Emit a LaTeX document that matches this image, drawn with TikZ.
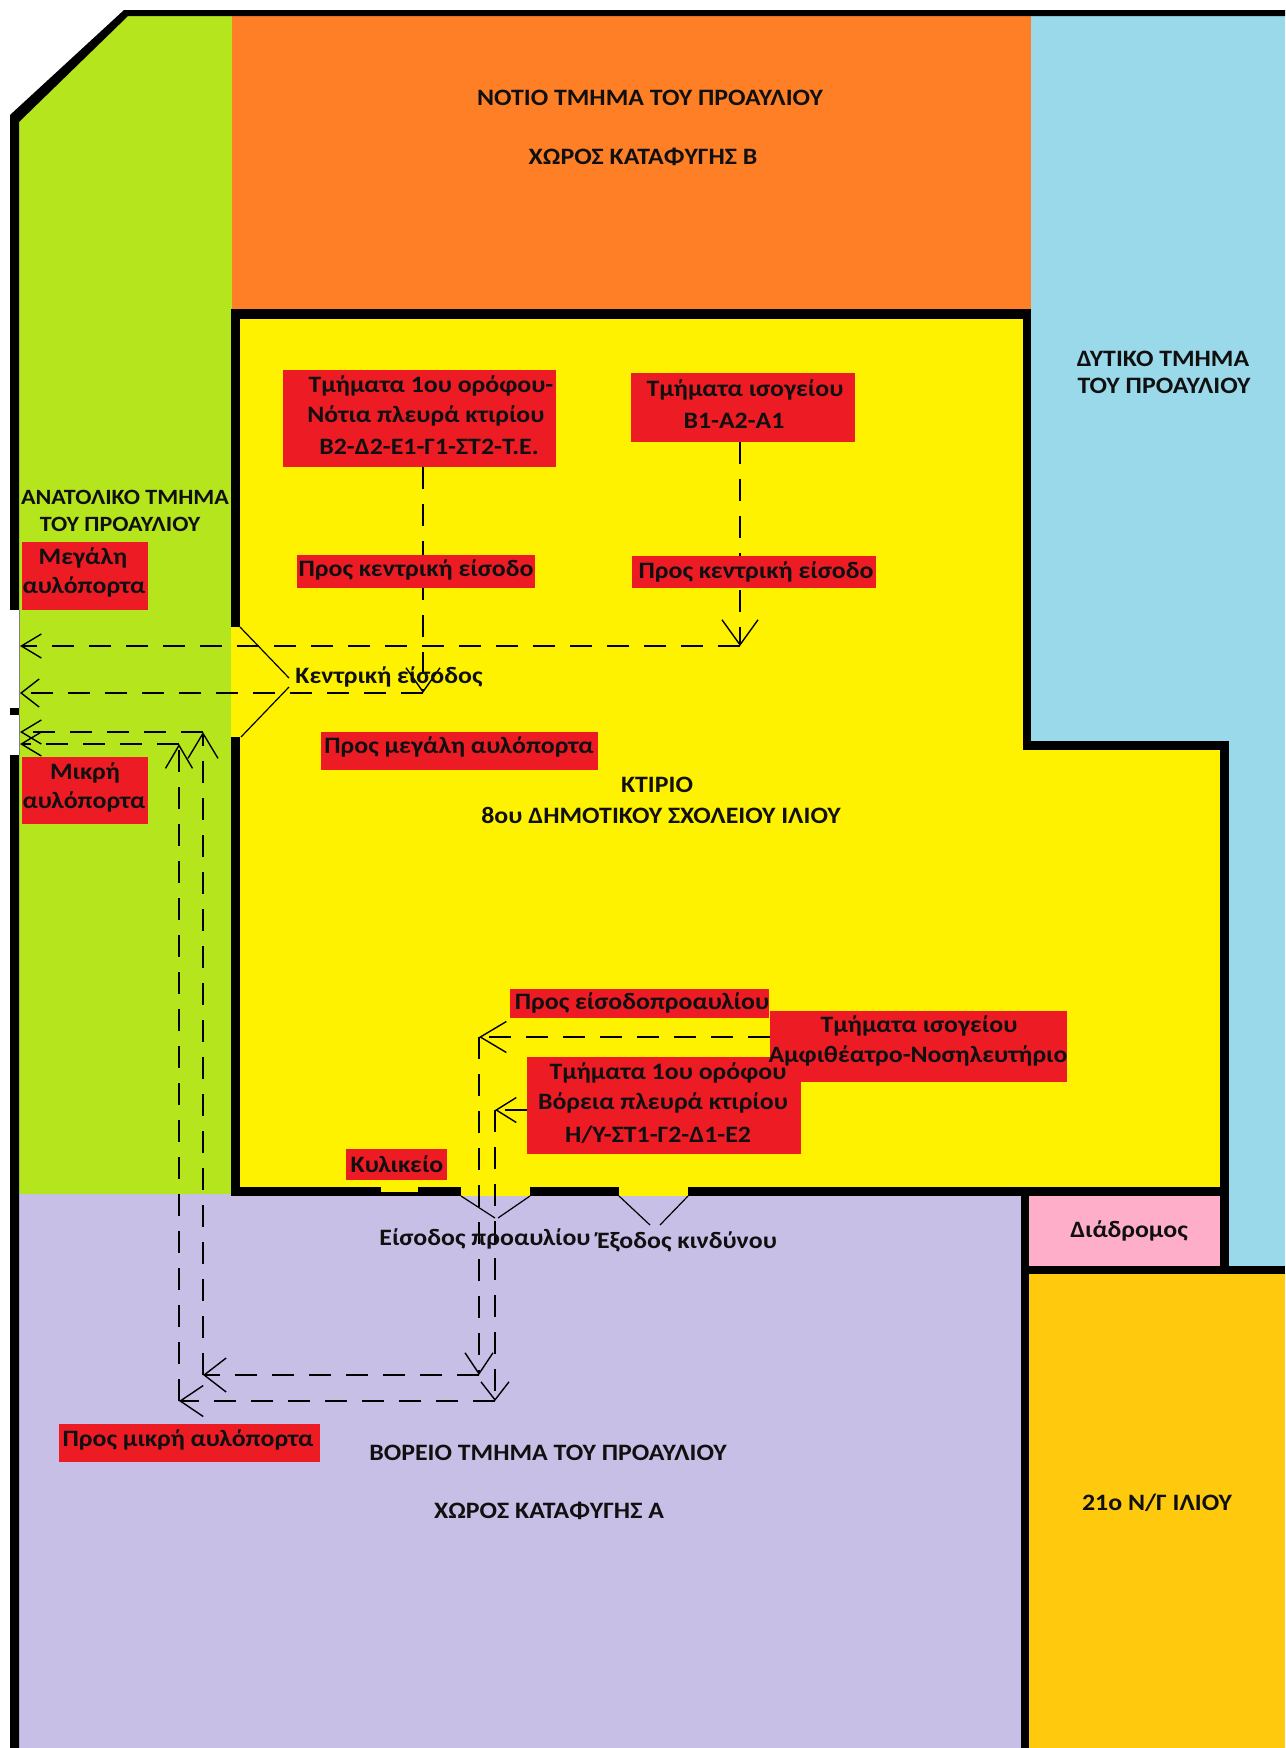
\documentclass[tikz,border=0pt]{standalone}
\usepackage{fontspec}
\setmainfont{Carlito}[FakeStretch=1.1]
\usetikzlibrary{arrows.meta,calc}
\pgfdeclarelayer{plan}
\pgfdeclarelayer{routes}
\pgfsetlayers{plan,routes,main}
\definecolor{cOrange}{HTML}{FF7F27}
\definecolor{cGreen}{HTML}{B5E61D}
\definecolor{cYellow}{HTML}{FFF200}
\definecolor{cRed}{HTML}{ED1C24}
\definecolor{cBlue}{HTML}{99D9EA}
\definecolor{cLav}{HTML}{C8BFE7}
\definecolor{cPink}{HTML}{FFAEC9}
\definecolor{cGold}{HTML}{FFC90E}
\definecolor{cText}{HTML}{101010}
\tikzset{
  lbl/.style={inner sep=0pt,text=cText,font=\fontsize{23.5}{26}\selectfont\bfseries},
  lblsmall/.style={lbl,font=\fontsize{21.8}{26}\selectfont\bfseries},
  redbox/.style={fill=cRed,draw=none,inner sep=0pt,outer sep=0pt},
  route/.style={draw=black,line width=1.4pt,dash pattern=on 22pt off 15pt},
  doorline/.style={draw=black,line width=1.2pt},
  ah/.style 2 args={-{Straight Barb[length=#1pt,width=#2pt,line width=1.4pt]}},
}
\newcommand{\rbox}[5]{%
  \pgfmathsetmacro{\rbw}{#4-#2}\pgfmathsetmacro{\rbh}{#5-#3}%
  \pgfmathsetmacro{\rbx}{(#4+#2)/2}\pgfmathsetmacro{\rby}{(#5+#3)/2}%
  \node[redbox,minimum width=\rbw pt,minimum height=\rbh pt] (#1) at (\rbx,\rby) {};}
\begin{document}
\begin{tikzpicture}[x=1pt,y=-1pt]
\useasboundingbox (0,0) rectangle (1285,1748);
\begin{pgfonlayer}{plan}
\fill[white] (0,0) rectangle (1285,1748);
% areas
\fill[cGreen] (15,118) -- (125,12) -- (235,12) -- (235,1200) -- (15,1200) -- cycle;
\fill[cOrange] (232,12) rectangle (1032,312);
\fill[cBlue] (1031,12) rectangle (1285,1270);
\fill[cYellow] (236,314) -- (1027,314) -- (1027,745) -- (1224,745) -- (1224,1190) -- (236,1190) -- cycle;
\fill[cLav] (15,1194) rectangle (1025,1748);
\fill[cPink] (1025,1194) rectangle (1224,1270);
\fill[cGold] (1025,1270) rectangle (1285,1748);
% walls
\fill[black] (10,1748) -- (10,115) -- (124,10) -- (1285,10) -- (1285,16) -- (128,16) -- (19,122) -- (19,1748) -- cycle;
\fill[white] (0,610) rectangle (19,708);
\fill[white] (0,715) rectangle (19,755);
\draw[gray,line width=0.6pt] (19,610) -- (19,708) (19,715) -- (19,755);
\fill[black] (10,708) rectangle (18,715);
\fill[black] (231,309) rectangle (1031,319);
\fill[black] (231,309) rectangle (240,1196);
\fill[black] (1023,309) rectangle (1031,750);
\fill[black] (1023,741) rectangle (1229,750);
\fill[black] (1220,741) rectangle (1229,1274);
\fill[black] (231,1187) rectangle (1229,1196);
\fill[black] (1021,1187) rectangle (1029,1748);
\fill[black] (1021,1266) rectangle (1285,1274);
% openings
\fill[cYellow] (231,627) rectangle (240,737);
\fill[cYellow] (461,1187) rectangle (530,1196);
\fill[cYellow] (619,1187) rectangle (688,1196);
\fill[cYellow] (381,1187) rectangle (418,1192);
\draw[doorline] (240,627) -- (289,678);
\draw[doorline] (289,687) -- (241,737);
\draw[doorline] (461,1196) -- (495,1218);
\draw[doorline] (498,1218) -- (530,1196);
\draw[doorline] (619,1196) -- (650,1225);
\draw[doorline] (660,1225) -- (688,1196);
\end{pgfonlayer}
% red boxes
\rbox{b1}{283}{370}{556}{467}
\rbox{b2}{631}{373}{855}{442}
\rbox{b3}{297}{555}{535}{588}
\rbox{b4}{632}{556}{876}{588}
\rbox{b5}{22}{542}{148}{610}
\rbox{b6}{22}{757}{148}{824}
\rbox{b7}{321}{732}{598}{770}
\rbox{b8}{510}{989}{769}{1018}
\rbox{b9}{770}{1011}{1067}{1082}
\rbox{b10}{527}{1057}{801}{1154}
\rbox{b11}{346}{1149}{447}{1180}
\rbox{b12}{59}{1424}{320}{1462}
% route points
\coordinate (gB) at (20,646);
\coordinate (gA) at (20,693);
\coordinate (gC) at (20,732);
\coordinate (gD) at (20,744);
\coordinate (pA) at (423,693);
\coordinate (pB) at (740,646);
\coordinate (pC) at (203,732);
\coordinate (pD) at (179,744);
\coordinate (pE) at (203,1375);
\coordinate (pF) at (179,1401);
\coordinate (pG) at (479,1375);
\coordinate (pH) at (495,1401);
\coordinate (pI) at (479,1037);
\coordinate (pJ) at (495,1110);
\begin{pgfonlayer}{routes}
\draw[route,ah={24}{34}] (b1.south -| pA) -- (pA);
\draw[route,ah={18}{28}] (pA) -- (gA);
\draw[route,ah={25}{36}] (b2.south -| pB) -- (pB);
\draw[route,ah={20}{24}] (pB) -- (gB);
\draw[route,ah={26}{31}] (b9.west |- pI) -- (pI);
\draw[route,ah={21}{28}] (pI) -- (pG);
\draw[route,ah={22}{34}] (pG) -- (pE);
\draw[route,ah={25}{30}] (pE) -- (pC);
\draw[route,ah={20}{24}] (pC) -- (gC);
\draw[route,ah={20}{25}] (b10.west |- pJ) -- (pJ);
\draw[route,ah={18}{28}] (pJ) -- (pH);
\draw[route,ah={23}{31}] (pH) -- (pF);
\draw[route,ah={23}{27}] (pF) -- (pD);
\draw[route,ah={20}{24}] (pD) -- (gD);
\end{pgfonlayer}
% labels
\node[lbl] (t1) at (650,98) {ΝΟΤΙΟ ΤΜΗΜΑ ΤΟΥ ΠΡΟΑΥΛΙΟΥ};
\node[lbl] (t2) at (643,157) {ΧΩΡΟΣ ΚΑΤΑΦΥΓΗΣ Β};
\node[lbl] (t3) at (1163,359) {ΔΥΤΙΚΟ ΤΜΗΜΑ};
\node[lbl] (t4) at (1164,386) {ΤΟΥ ΠΡΟΑΥΛΙΟΥ};
\node[lblsmall] (t5) at (125,497) {ΑΝΑΤΟΛΙΚΟ ΤΜΗΜΑ};
\node[lblsmall] (t6) at (120,524) {ΤΟΥ ΠΡΟΑΥΛΙΟΥ};
\node[lbl] (t7) at (83,558) {Μεγάλη};
\node[lbl] (t8) at (84,587) {αυλόπορτα};
\node[lbl] (t9) at (85,773) {Μικρή};
\node[lbl] (t10) at (84,802) {αυλόπορτα};
\node[lbl] (t11) at (389,677) {Κεντρική είσοδος};
\node[lbl] (t12) at (459,747) {Προς μεγάλη αυλόπορτα};
\node[lbl] (t13) at (657,785) {ΚΤΙΡΙΟ};
\node[lbl] (t14) at (661,815) {8ου ΔΗΜΟΤΙΚΟΥ ΣΧΟΛΕΙΟΥ ΙΛΙΟΥ};
\node[lbl] (t15) at (485,1239) {Είσοδος προαυλίου};
\node[lbl] (t16) at (687,1242) {Έξοδος κινδύνου};
\node[lbl] (t17) at (1129,1231) {Διάδρομος};
\node[lbl] (t18) at (1157,1503) {21ο Ν/Γ ΙΛΙΟΥ};
\node[lbl] (t19) at (548,1453) {ΒΟΡΕΙΟ ΤΜΗΜΑ ΤΟΥ ΠΡΟΑΥΛΙΟΥ};
\node[lbl] (t20) at (549,1511) {ΧΩΡΟΣ ΚΑΤΑΦΥΓΗΣ Α};
\node[lbl] (t21) at (431,386) {Τμήματα 1ου ορόφου-};
\node[lbl] (t22) at (426,416) {Νότια πλευρά κτιρίου};
\node[lbl] (t23) at (429,447) {Β2-Δ2-Ε1-Γ1-ΣΤ2-Τ.Ε.};
\node[lbl] (t24) at (745,390) {Τμήματα ισογείου};
\node[lbl] (t25) at (734,421) {Β1-Α2-Α1};
\node[lbl] (t26) at (416,570) {Προς κεντρική είσοδο};
\node[lbl] (t27) at (756,572) {Προς κεντρική είσοδο};
\node[lbl] (t28) at (642,1003) {Προς είσοδοπροαυλίου};
\node[lbl] (t29) at (919,1026) {Τμήματα ισογείου};
\node[lbl] (t30) at (918,1056) {Αμφιθέατρο-Νοσηλευτήριο};
\node[lbl] (t31) at (668,1073) {Τμήματα 1ου ορόφου};
\node[lbl] (t32) at (663,1103) {Βόρεια πλευρά κτιρίου};
\node[lbl] (t33) at (658,1135) {Η/Υ-ΣΤ1-Γ2-Δ1-Ε2};
\node[lbl] (t34) at (397,1164) {Κυλικείο};
\node[lbl] (t35) at (188,1440) {Προς μικρή αυλόπορτα};
\end{tikzpicture}
\end{document}
